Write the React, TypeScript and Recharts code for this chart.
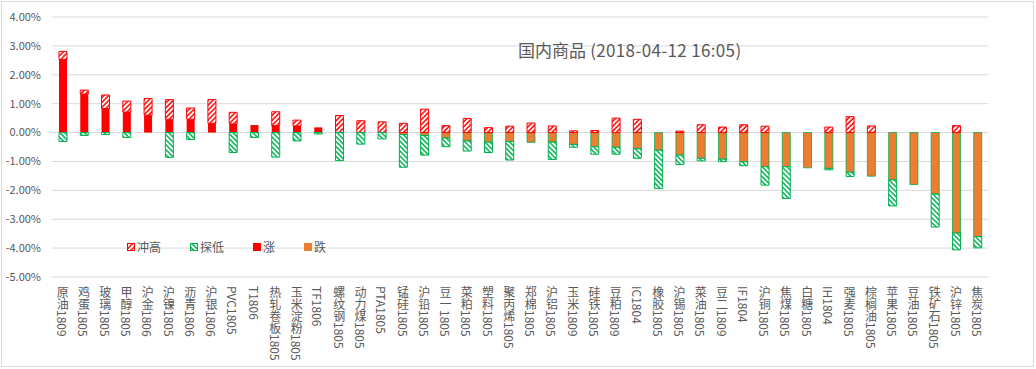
import React from 'react';
import { BarChart, Bar, XAxis, YAxis, CartesianGrid, Legend } from 'recharts';

const categories = [
  '原油1809', '鸡蛋1805', '玻璃1805', '甲醇1805', '沪金1806', '沪镍1805', '沥青1806', '沪银1806',
  'PVC1805', 'T1806', '热轧卷板1805', '玉米淀粉1805', 'TF1806', '螺纹钢1805', '动力煤1805', 'PTA1805',
  '锰硅1805', '沪铅1805', '豆一1805', '菜粕1805', '塑料1805', '聚丙烯1805', '郑棉1805', '沪铝1805',
  '玉米1809', '硅铁1805', '豆粕1809', 'IC1804', '橡胶1805', '沪锡1805', '菜油1805', '豆二1809',
  'IF1804', '沪铜1805', '焦煤1805', '白糖1805', 'IH1804', '强麦1805', '棕榈油1805', '苹果1805',
  '豆油1805', '铁矿石1805', '沪锌1805', '焦炭1805',
];

// 涨 (close change, positive part)
const riseValues = [
  2.53, 1.33, 0.83, 0.71, 0.60, 0.46, 0.46, 0.32,
  0.30, 0.26, 0.24, 0.23, 0.18, 0, 0, 0,
  0, 0, 0, 0, 0, 0, 0, 0,
  0, 0, 0, 0, 0, 0, 0, 0,
  0, 0, 0, 0, 0, 0, 0, 0,
  0, 0, 0, 0,
];

// 跌 (close change, negative part)
const fallValues = [
  0, 0, 0, 0, 0, 0, 0, 0,
  0, 0, 0, 0, 0, 0, 0, 0,
  -0.07, -0.10, -0.19, -0.29, -0.33, -0.31, -0.34, -0.33,
  -0.41, -0.49, -0.51, -0.56, -0.61, -0.78, -0.89, -0.92,
  -1.01, -1.18, -1.18, -1.22, -1.24, -1.37, -1.51, -1.64,
  -1.80, -2.13, -3.48, -3.60,
];

// 冲高 (intraday high above close / zero)
const highValues = [
  0.28, 0.14, 0.47, 0.38, 0.58, 0.68, 0.39, 0.82,
  0.40, 0, 0.48, 0.20, 0, 0.59, 0.41, 0.37,
  0.32, 0.81, 0.24, 0.49, 0.17, 0.22, 0.33, 0.23,
  0.06, 0.07, 0.50, 0.46, 0, 0.05, 0.27, 0.19,
  0.27, 0.22, 0, 0, 0.19, 0.55, 0.23, 0,
  0, 0, 0.24, 0,
];

// 探低 (intraday low below close / zero)
const lowValues = [
  -0.31, -0.10, -0.07, -0.17, 0, -0.86, -0.24, 0,
  -0.69, -0.17, -0.85, -0.29, -0.05, -0.97, -0.40, -0.22,
  -1.13, -0.68, -0.30, -0.35, -0.36, -0.64, 0, -0.60,
  -0.10, -0.26, -0.24, -0.33, -1.33, -0.33, -0.09, -0.09,
  -0.14, -0.64, -1.10, 0, -0.05, -0.15, 0, -0.90,
  0, -1.14, -0.58, -0.39,
];

const yTicks = [-5, -4, -3, -2, -1, 0, 1, 2, 3, 4];
const titleMain = '国内商品';
const titleTime = ' (2018-04-12 16:05)';
const legendItems = [
  { key: 'high', label: '冲高' },
  { key: 'low', label: '探低' },
  { key: 'rise', label: '涨' },
  { key: 'fall', label: '跌' },
];

const data = categories.map((name, i) => ({
  name,
  rise: riseValues[i],
  fall: fallValues[i],
  high: highValues[i],
  low: lowValues[i],
}));

const FONT = '"Noto Sans CJK SC", "Microsoft YaHei", sans-serif';
const TEXT = '#595959';
const RED = '#FF0000';
const GREEN = '#00B050';
const ORANGE = '#ED7D31';

const fills: Record<string, string> = {
  high: 'url(#hatchUp)',
  low: 'url(#hatchDown)',
  rise: RED,
  fall: ORANGE,
};
const strokes: Record<string, string> = {
  high: RED,
  low: GREEN,
  rise: RED,
  fall: ORANGE,
};

function VerticalTick(props: any) {
  const { x, y, payload } = props;
  const label: string = String(payload.value);
  return (
    <text
      x={x}
      y={y + 1}
      fontSize={12}
      fill={TEXT}
      fontFamily={FONT}
      textAnchor="start"
      style={{ writingMode: 'vertical-rl', textOrientation: 'mixed' } as React.CSSProperties}
    >
      {label}
    </text>
  );
}

function LegendBox({ k }: { k: string }) {
  return (
    <svg width={8} height={8} style={{ display: 'block' }}>
      <rect x={0.5} y={0.5} width={7} height={7} fill={fills[k]} stroke={strokes[k]} strokeWidth={1} />
    </svg>
  );
}

function renderLegend() {
  return (
    <div style={{ display: 'flex', alignItems: 'center', fontFamily: FONT, fontSize: 12, color: TEXT }}>
      {legendItems.map((it) => (
        <div key={it.key} style={{ display: 'flex', alignItems: 'center', marginRight: 29 }}>
          <LegendBox k={it.key} />
          <span style={{ marginLeft: 2, lineHeight: '14px' }}>{it.label}</span>
        </div>
      ))}
    </div>
  );
}

export default function App() {
  return (
    <div style={{ position: 'absolute', left: 0, top: 0, width: 1036, height: 369, background: '#fff' }}>
      <div
        style={{
          position: 'absolute',
          left: 1,
          top: 1,
          width: 1033,
          height: 366,
          border: '1px solid #D9D9D9',
          boxSizing: 'border-box',
          pointerEvents: 'none',
        }}
      />
      <BarChart
        width={1036}
        height={369}
        data={data}
        stackOffset="sign"
        barSize={8}
        margin={{ top: 17, right: 48, bottom: 0, left: 0 }}
      >
        <defs>
          <pattern id="hatchUp" patternUnits="userSpaceOnUse" width={3.5} height={3.5} patternTransform="rotate(45)">
            <rect width={3.5} height={3.5} fill="#fff" />
            <line x1={1} y1={0} x2={1} y2={3.5} stroke={RED} strokeWidth={1.5} />
          </pattern>
          <pattern id="hatchDown" patternUnits="userSpaceOnUse" width={3.5} height={3.5} patternTransform="rotate(-45)">
            <rect width={3.5} height={3.5} fill="#fff" />
            <line x1={1} y1={0} x2={1} y2={3.5} stroke={GREEN} strokeWidth={1.5} />
          </pattern>
        </defs>
        <CartesianGrid vertical={false} stroke="#D9D9D9" />
        <XAxis
          dataKey="name"
          interval={0}
          axisLine={false}
          tickLine={false}
          height={92}
          tick={<VerticalTick />}
        />
        <YAxis
          domain={[-5, 4]}
          ticks={yTicks}
          width={52}
          axisLine={false}
          tickLine={false}
          tickMargin={5}
          tickFormatter={(v: number) => `${v.toFixed(2)}%`}
          tick={{ fontSize: 11, fill: TEXT, fontFamily: FONT }}
        />
        <Legend
          verticalAlign="middle"
          layout="horizontal"
          content={renderLegend}
          wrapperStyle={{ position: 'absolute', left: 127, top: 240, width: 'auto', height: 'auto' }}
        />
        <Bar dataKey="rise" name="涨" stackId="a" fill={RED} isAnimationActive={false} />
        <Bar dataKey="fall" name="跌" stackId="a" fill={ORANGE} stroke={GREEN} strokeWidth={0.8} isAnimationActive={false} />
        <Bar dataKey="high" name="冲高" stackId="a" fill="url(#hatchUp)" stroke={RED} strokeWidth={1} isAnimationActive={false} />
        <Bar dataKey="low" name="探低" stackId="a" fill="url(#hatchDown)" stroke={GREEN} strokeWidth={1} isAnimationActive={false} />
      </BarChart>
      <div
        style={{
          position: 'absolute',
          left: 518,
          top: 38,
          fontFamily: FONT,
          fontSize: 17,
          lineHeight: '24px',
          color: TEXT,
          whiteSpace: 'nowrap',
        }}
      >
        {titleMain}
        <span style={{ letterSpacing: 0.35 }}>{titleTime}</span>
      </div>
    </div>
  );
}
